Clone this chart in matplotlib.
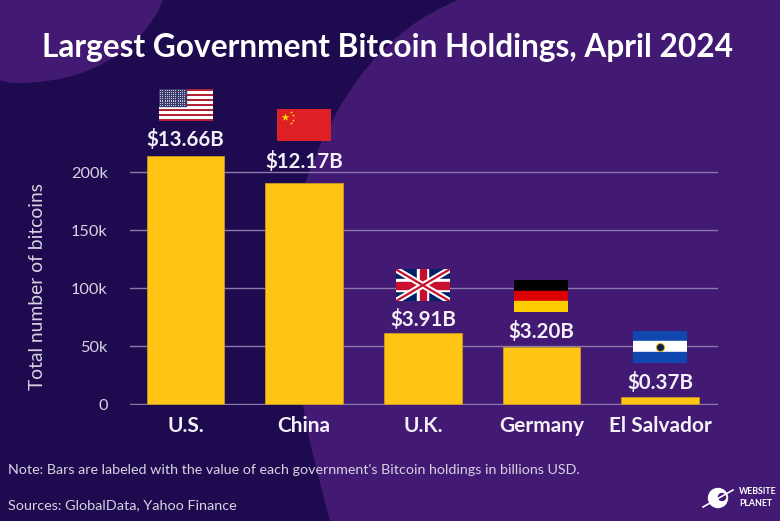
import numpy as np
import matplotlib
matplotlib.use("Agg")
from matplotlib import pyplot as plt
from matplotlib.patches import Circle, Rectangle, PathPatch
from matplotlib.path import Path

plt.rcParams['font.family'] = ['Lato', 'Open Sans', 'DejaVu Sans']

countries = ["U.S.", "China", "U.K.", "Germany", "El Salvador"]
bitcoins = [213800, 190500, 61000, 49000, 6400]
usd_labels = ["$13.66B", "$12.17B", "$3.91B", "$3.20B", "$0.37B"]
y_ticks = [0, 50000, 100000, 150000, 200000]
y_tick_labels = ["0", "50k", "100k", "150k", "200k"]

# how far label and flag sit above each bar, in pixels
label_gap = [16, 22, 14, 16, 14]
flag_gap = [35, 42, 32, 35, 34]

W, H = 780, 521
NAVY = "#1e0b4f"
PURPLE = "#431a73"
YELLOW = "#ffc414"
TEXT = "#f4f0f8"
SOFT = "#d8d2e2"

fig = plt.figure(figsize=(W / 100, H / 100), dpi=100, facecolor=NAVY)


def px_axes(x0, y0, x1, y1, **kw):
    # axes from pixel box, y counted from top of image
    return fig.add_axes([x0 / W, 1 - y1 / H, (x1 - x0) / W, (y1 - y0) / H], **kw)


# ------- background -------
bg = px_axes(0, 0, W, H, zorder=0)
bg.set_xlim(0, W)
bg.set_ylim(H, 0)
bg.axis("off")
bg.add_patch(Rectangle((0, 0), W, H, color=NAVY))
corner = Path(
    [(163, 0), (150, 35), (105, 82), (20, 83), (12, 83), (5, 82), (0, 80), (0, 0), (163, 0)],
    [Path.MOVETO] + [Path.CURVE4] * 6 + [Path.LINETO, Path.CLOSEPOLY],
)
bg.add_patch(PathPatch(corner, facecolor=PURPLE, edgecolor="none"))
blob = Path(
    [(458, 0), (385, 30), (340, 90), (308, 175), (290, 225), (285, 330), (303, 405),
     (308, 440), (322, 490), (330, 521), (W, H), (W, 0), (458, 0)],
    [Path.MOVETO] + [Path.CURVE4] * 9 + [Path.LINETO, Path.LINETO, Path.CLOSEPOLY],
)
bg.add_patch(PathPatch(blob, facecolor=PURPLE, edgecolor="none"))

# ------- bars -------
ax = px_axes(130, 172 - 232 * 0.2, 718, 404 + 1, zorder=1)
ax.patch.set_alpha(0)
px_per_unit = 232 / 200000
ax.set_ylim(-1 / px_per_unit, 200000 + 232 * 0.2 / px_per_unit)
ax.set_xlim((130 - 185.6) / 118.6, (718 - 185.6) / 118.6)
x = np.arange(len(countries))
ax.bar(x, bitcoins, width=0.655, color=YELLOW, edgecolor="#c99a22", linewidth=0.6, zorder=3)
ax.set_yticks(y_ticks)
ax.set_yticklabels(y_tick_labels, fontsize=11.8, color=SOFT)
ax.set_xticks(x)
ax.set_xticklabels(countries, fontsize=15, color=TEXT, fontweight="bold")
ax.tick_params(axis="y", length=0, pad=16)
ax.tick_params(axis="x", length=0, pad=8)
ax.grid(axis="y", color="#8d78ab", linewidth=1, zorder=1)
ax.grid(axis="x", visible=False)
for s in ax.spines.values():
    s.set_visible(False)

fig.text(38 / W, 1 - 286 / H, "Total number of bitcoins", rotation=90, fontsize=13.9,
         color=SOFT, ha="center", va="center")


def flag_us(a):
    a.imshow(np.array([[(178, 34, 52) if i % 2 == 0 else (255, 255, 255)] for i in range(13)], dtype=np.uint8),
             extent=(0, 1, 0, 1), aspect="auto", interpolation="nearest")
    a.add_patch(Rectangle((0, 6 / 13), 0.5, 7 / 13, color="#3c3b6e"))
    sx, sy = np.meshgrid(np.linspace(0.03, 0.47, 12), np.linspace(0.49, 0.97, 9))
    a.scatter(sx, sy, s=0.6, color="white", linewidths=0, alpha=0.8)


def flag_china(a):
    a.add_patch(Rectangle((0, 0), 1, 1, color="#de1f26"))
    a.scatter([0.14], [0.74], marker="*", s=34, color="#ffde00", linewidths=0)
    a.scatter([0.26, 0.30, 0.30, 0.26], [0.9, 0.8, 0.66, 0.56], marker="*", s=5, color="#ffde00", linewidths=0)


def flag_uk(a):
    a.add_patch(Rectangle((0, 0), 1, 1, color="#012169"))
    a.plot([0, 1], [0, 1], color="white", lw=4.5, solid_capstyle="butt")
    a.plot([0, 1], [1, 0], color="white", lw=4.5, solid_capstyle="butt")
    a.plot([0, 1], [0, 1], color="#c8102e", lw=1.6, solid_capstyle="butt")
    a.plot([0, 1], [1, 0], color="#c8102e", lw=1.6, solid_capstyle="butt")
    a.add_patch(Rectangle((0.40, 0), 0.20, 1, color="white"))
    a.add_patch(Rectangle((0, 0.32), 1, 0.36, color="white"))
    a.add_patch(Rectangle((0.44, 0), 0.12, 1, color="#c8102e"))
    a.add_patch(Rectangle((0, 0.39), 1, 0.22, color="#c8102e"))


def flag_germany(a):
    a.add_patch(Rectangle((0, 2 / 3), 1, 1 / 3, color="black"))
    a.add_patch(Rectangle((0, 1 / 3), 1, 1 / 3, color="#dd0000"))
    a.add_patch(Rectangle((0, 0), 1, 1 / 3, color="#ffce00"))


def flag_salvador(a):
    a.add_patch(Rectangle((0, 2 / 3), 1, 1 / 3, color="#0f47af"))
    a.add_patch(Rectangle((0, 1 / 3), 1, 1 / 3, color="white"))
    a.add_patch(Rectangle((0, 0), 1, 1 / 3, color="#0f47af"))
    a.scatter([0.5], [0.5], s=42, color="#e0a800", linewidths=0)
    a.scatter([0.5], [0.5], s=26, color="#10204a", linewidths=0)


flags = [flag_us, flag_china, flag_uk, flag_germany, flag_salvador]
fig.canvas.draw()
for i, value in enumerate(bitcoins):
    # bar top in pixels from data coords
    cx, top = ax.transData.transform((x[i], value))
    top = H - top
    fig.text(cx / W, 1 - (top - label_gap[i]) / H, usd_labels[i], fontsize=14.8, color=TEXT,
             fontweight="bold", ha="center", va="center", zorder=5)
    fa = px_axes(cx - 27, top - flag_gap[i] - 32, cx + 27, top - flag_gap[i], zorder=4)
    fa.set_xlim(0, 1)
    fa.set_ylim(0, 1)
    fa.axis("off")
    flags[i](fa)
    fa.set_xlim(0, 1)
    fa.set_ylim(0, 1)

# ------- title and footer -------
fig.text(388 / W, 1 - 47 / H, "Largest Government Bitcoin Holdings, April 2024", fontsize=22.8,
         fontweight="bold", color="white", ha="center", va="center")
fig.text(8 / W, 1 - 470 / H, "Note: Bars are labeled with the value of each government's Bitcoin holdings in billions USD.",
         fontsize=10.25, color=SOFT, ha="left", va="center")
fig.text(8 / W, 1 - 505 / H, "Sources: GlobalData, Yahoo Finance", fontsize=10.35, color=SOFT, ha="left", va="center")

# logo
fig.text(739 / W, 1 - 492 / H, "WEBSITE", fontsize=6.3, fontweight="bold", color="white", ha="left", va="center")
fig.text(739 / W, 1 - 503 / H, "PLANET", fontsize=6.3, fontweight="bold", color="white", ha="left", va="center")
bg.add_patch(Circle((718, 498), 9.5, color="white"))
bg.add_patch(Circle((722, 497), 3.5, color=PURPLE))
bg.plot([703, 733], [507, 490], color="white", lw=1.2)

fig.savefig("out.png", dpi=100, facecolor=NAVY)
